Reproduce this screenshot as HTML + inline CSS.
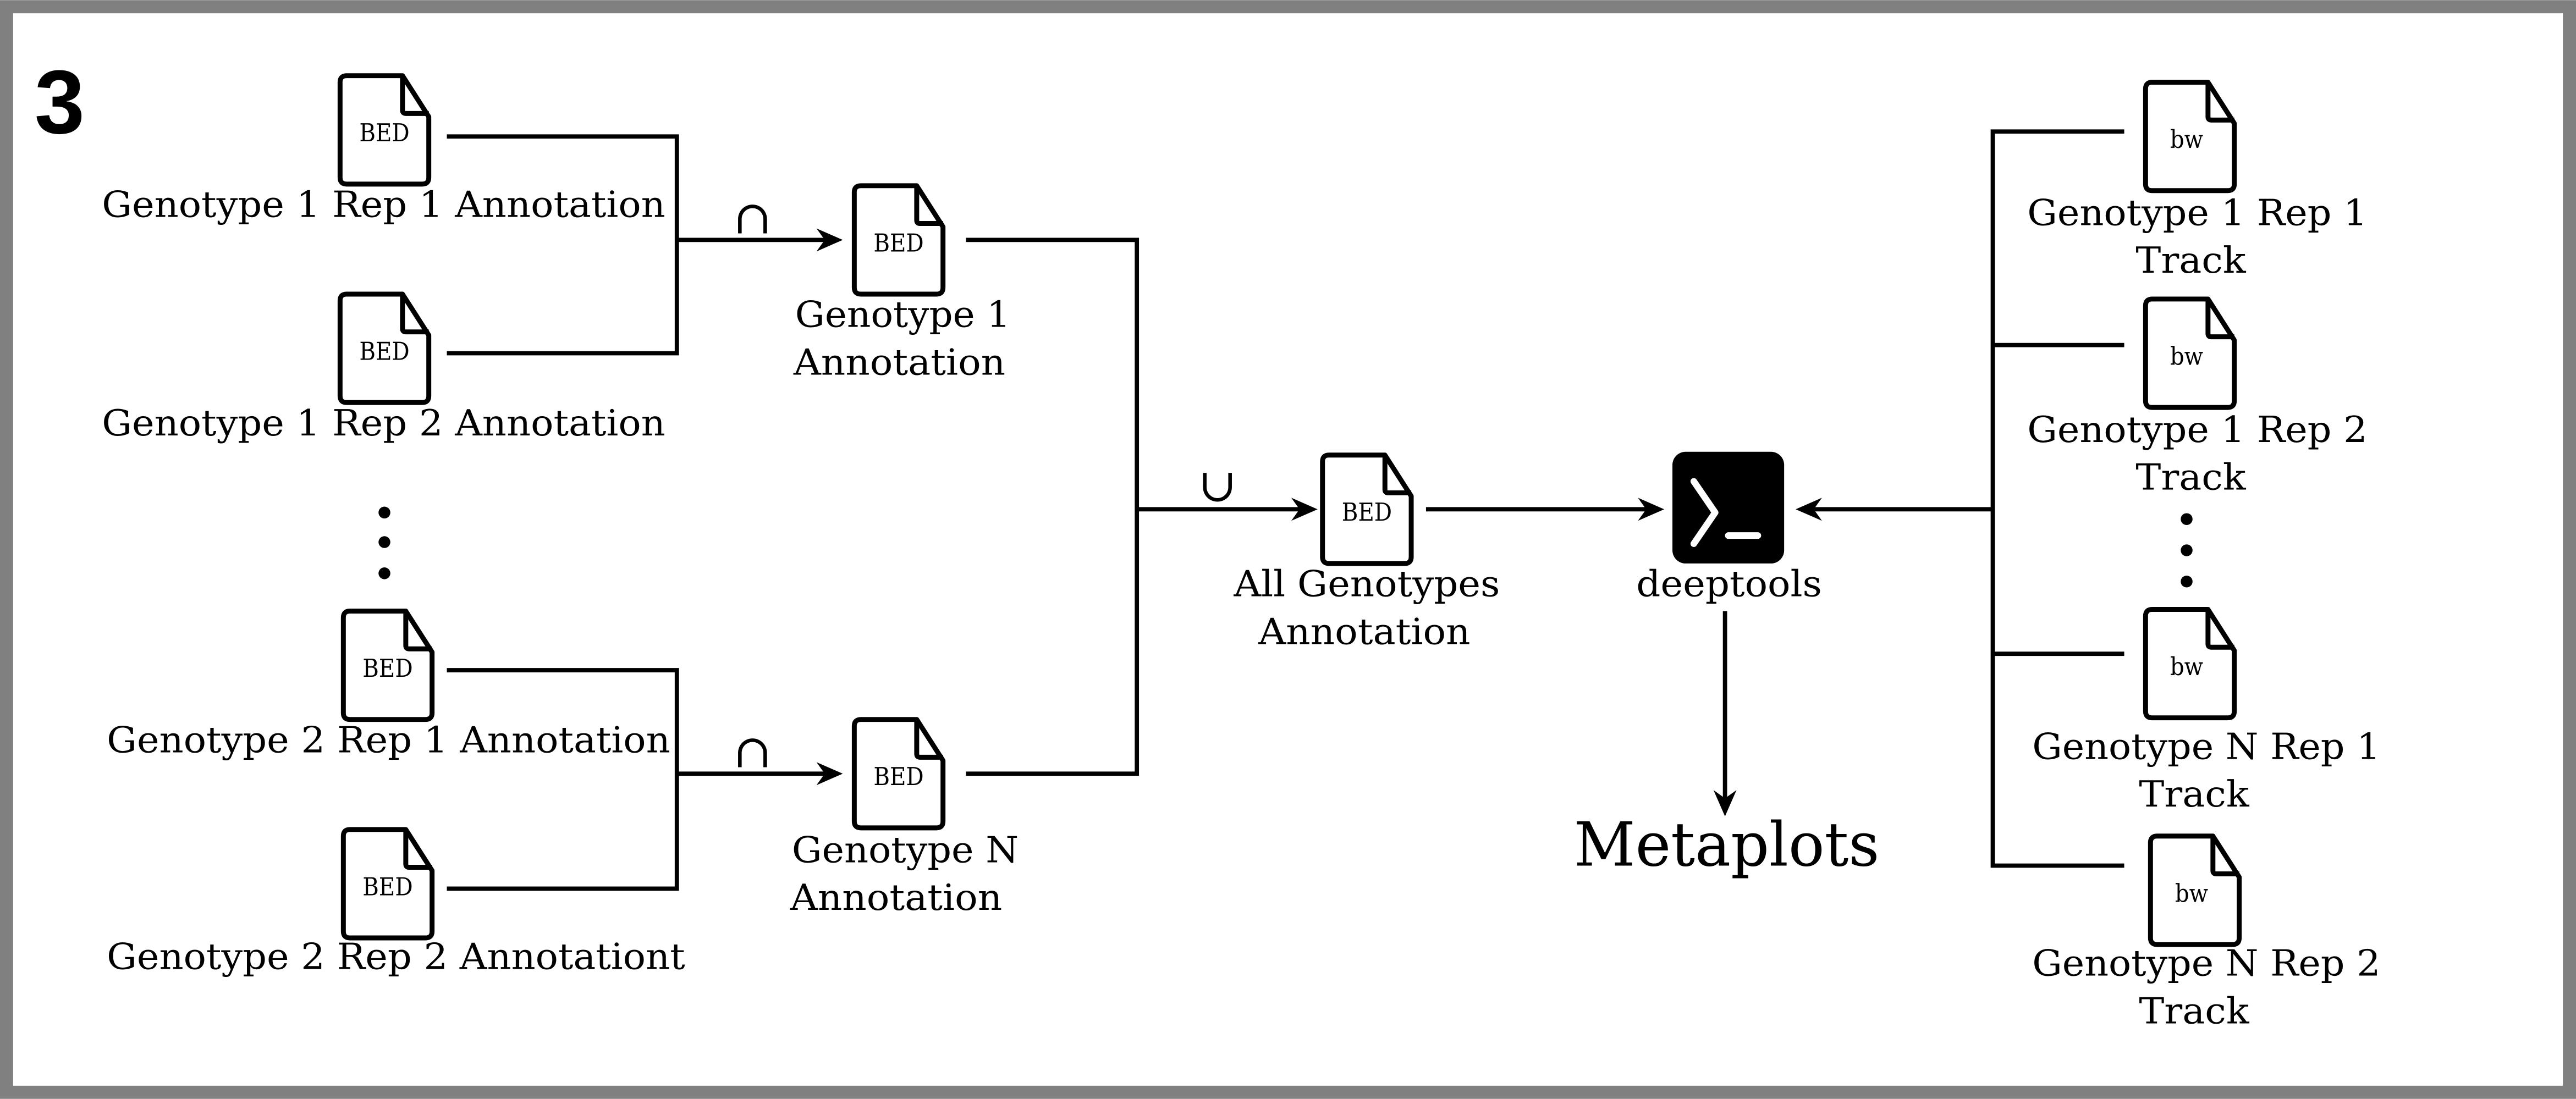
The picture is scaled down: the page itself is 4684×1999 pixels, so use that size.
<!DOCTYPE html>
<html><head><meta charset="utf-8"><style>
html,body{margin:0;padding:0;background:#fff}
svg{display:block}
text{font-family:"DejaVu Serif","Liberation Serif",serif;font-stretch:condensed;fill:#000}
</style></head><body>
<svg width="4684" height="1999" viewBox="0 0 1568 669" xmlns="http://www.w3.org/2000/svg">
<defs>
<g id="doc">
<path d="M4,0 H38 L54,25 V62 Q54,66 50,66 H4 Q0,66 0,62 V4 Q0,0 4,0 Z" fill="#fff" stroke="#000" stroke-width="3" stroke-linejoin="round"/>
<path d="M38,0 V21 Q38,23 40,23 H54" fill="none" stroke="#000" stroke-width="3" stroke-linejoin="round"/>
</g>
</defs>
<rect x="0" y="0" width="1568" height="669" fill="#808080"/>
<rect x="8" y="8" width="1552" height="653" fill="#fff"/>
<text x="21" y="81" style="font-family:'Liberation Sans',sans-serif;font-weight:bold;font-stretch:normal" font-size="55">3</text>

<g fill="none" stroke="#000" stroke-width="2.6">
<path d="M272,83 H412 V215 H272"/>
<path d="M412,146 H505"/>
<path d="M272,408 H412 V541 H272"/>
<path d="M412,471 H505"/>
<path d="M588,146 H692 V471 H588"/>
<path d="M692,310 H795"/>
<path d="M868,310 H1005"/>
<path d="M1213,310 H1101"/>
<path d="M1050,372 V488"/>
<path d="M1293,80 H1213 V527 H1293"/>
<path d="M1213,210 H1293"/>
<path d="M1213,398 H1293"/>
</g>
<g fill="#000">
<path d="M513,146 L497,139 L502,146 L497,153 Z"/>
<path d="M513,471 L497,464 L502,471 L497,478 Z"/>
<path d="M802,310 L786,303 L791,310 L786,317 Z"/>
<path d="M1013,310 L997,303 L1002,310 L997,317 Z"/>
<path d="M1093,310 L1109,303 L1104,310 L1109,317 Z"/>
<path d="M1050,497 L1043,481 L1050,486 L1057,481 Z"/>
<circle cx="234" cy="312" r="3.6"/><circle cx="234" cy="330" r="3.6"/><circle cx="234" cy="349" r="3.6"/>
<circle cx="1331" cy="316" r="3.6"/><circle cx="1331" cy="335" r="3.6"/><circle cx="1331" cy="354" r="3.6"/>
</g>

<text x="458" y="142" font-size="28" text-anchor="middle" style="font-stretch:normal">∩</text>
<text x="458" y="467" font-size="28" text-anchor="middle" style="font-stretch:normal">∩</text>
<text x="741" y="305" font-size="28" text-anchor="middle" style="font-stretch:normal">∪</text>

<use href="#doc" x="207" y="46"/><text x="234" y="86" font-size="15" text-anchor="middle">BED</text>
<use href="#doc" x="207" y="179"/><text x="234" y="219" font-size="15" text-anchor="middle">BED</text>
<use href="#doc" x="209" y="372"/><text x="236" y="412" font-size="15" text-anchor="middle">BED</text>
<use href="#doc" x="209" y="505"/><text x="236" y="545" font-size="15" text-anchor="middle">BED</text>
<use href="#doc" x="520" y="113"/><text x="547" y="153" font-size="15" text-anchor="middle">BED</text>
<use href="#doc" x="520" y="438"/><text x="547" y="478" font-size="15" text-anchor="middle">BED</text>
<use href="#doc" x="805" y="277"/><text x="832" y="317" font-size="15" text-anchor="middle">BED</text>
<use href="#doc" x="1306" y="50"/><text x="1331" y="90" font-size="15" text-anchor="middle">bw</text>
<use href="#doc" x="1306" y="182"/><text x="1331" y="222" font-size="15" text-anchor="middle">bw</text>
<use href="#doc" x="1306" y="371"/><text x="1331" y="411" font-size="15" text-anchor="middle">bw</text>
<use href="#doc" x="1309" y="509"/><text x="1334" y="549" font-size="15" text-anchor="middle">bw</text>

<g font-size="22">
<text x="62" y="132" textLength="343" lengthAdjust="spacingAndGlyphs">Genotype 1 Rep 1 Annotation</text>
<text x="62" y="265" textLength="343" lengthAdjust="spacingAndGlyphs">Genotype 1 Rep 2 Annotation</text>
<text x="65" y="458" textLength="343" lengthAdjust="spacingAndGlyphs">Genotype 2 Rep 1 Annotation</text>
<text x="65" y="590" textLength="352" lengthAdjust="spacingAndGlyphs">Genotype 2 Rep 2 Annotationt</text>
<text x="484" y="199" textLength="131" lengthAdjust="spacingAndGlyphs">Genotype 1</text>
<text x="483" y="228" textLength="129" lengthAdjust="spacingAndGlyphs">Annotation</text>
<text x="482" y="525" textLength="138" lengthAdjust="spacingAndGlyphs">Genotype N</text>
<text x="481" y="554" textLength="129" lengthAdjust="spacingAndGlyphs">Annotation</text>
<text x="751" y="363" textLength="162" lengthAdjust="spacingAndGlyphs">All Genotypes</text>
<text x="766" y="392" textLength="129" lengthAdjust="spacingAndGlyphs">Annotation</text>
<text x="996" y="363" textLength="113" lengthAdjust="spacingAndGlyphs">deeptools</text>
<text x="1234" y="137" textLength="207" lengthAdjust="spacingAndGlyphs">Genotype 1 Rep 1</text>
<text x="1300" y="166" textLength="67" lengthAdjust="spacingAndGlyphs">Track</text>
<text x="1234" y="269" textLength="207" lengthAdjust="spacingAndGlyphs">Genotype 1 Rep 2</text>
<text x="1300" y="298" textLength="67" lengthAdjust="spacingAndGlyphs">Track</text>
<text x="1237" y="462" textLength="212" lengthAdjust="spacingAndGlyphs">Genotype N Rep 1</text>
<text x="1302" y="491" textLength="67" lengthAdjust="spacingAndGlyphs">Track</text>
<text x="1237" y="594" textLength="212" lengthAdjust="spacingAndGlyphs">Genotype N Rep 2</text>
<text x="1302" y="623" textLength="67" lengthAdjust="spacingAndGlyphs">Track</text>
</g>
<text x="958" y="527" font-size="37" textLength="186" lengthAdjust="spacingAndGlyphs">Metaplots</text>

<rect x="1018" y="275" width="68" height="68" rx="8" fill="#000"/>
<path d="M1031,293 L1044,312 L1031,331" fill="none" stroke="#fff" stroke-width="4" stroke-linecap="round" stroke-linejoin="round"/>
<path d="M1052,326 H1070" stroke="#fff" stroke-width="4" stroke-linecap="round"/>
</svg>
</body></html>
